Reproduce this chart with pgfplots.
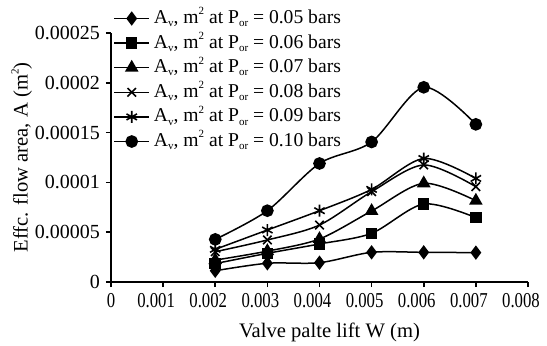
\documentclass[border=0pt]{standalone}
\usepackage{graphicx}
\usepackage{pgfplots}
\pgfplotsset{compat=1.18}
\usepackage{fontspec}
\setmainfont{Liberation Serif}
\newcommand{\sbs}[1]{\raisebox{-0.35ex}{\fontsize{5.5}{5}\selectfont #1}}
\newcommand{\sps}[1]{\raisebox{0.95ex}{\fontsize{5.5}{5}\selectfont #1}}
\newcommand{\xl}[1]{\scalebox{0.79}[1]{\fontsize{10.6}{11}\selectfont #1}}
\begin{document}
\fontsize{10}{11}\selectfont
\begin{tikzpicture}
\useasboundingbox (-55.5pt,-31.5pt) rectangle (218pt,141pt);
\begin{axis}[
  scale only axis, width=208.5pt, height=124.5pt,
  at={(0pt,0pt)}, anchor=origin,
  xmin=0, xmax=0.008, ymin=0, ymax=0.00025,
  axis lines=left, axis line style={line width=0.9pt, -},
  tick align=outside, major tick length=2.5pt,
  tick style={line width=0.8pt, black},
  xtick={0,0.001,0.002,0.003,0.004,0.005,0.006,0.007,0.008},
  xticklabels={\hspace*{7pt}\xl{0},\xl{0.001},\xl{0.002},\xl{0.003},\xl{0.004},\xl{0.005},\xl{0.006},\xl{0.007},\xl{0.008}},
  ytick={0,0.00005,0.0001,0.00015,0.0002,0.00025},
  yticklabels={0,0.00005,0.0001,0.00015,0.0002,0.00025},
  scaled x ticks=false, scaled y ticks=false,
  ticklabel style={font=\fontsize{10}{11}\selectfont},
  xticklabel style={xshift=-3.5pt, yshift=0.5pt},
  yticklabel style={xshift=0.5pt},
  xlabel={Valve palte lift W (m)},
  ylabel={Effc. flow area, A (m\sps{2})},
  label style={font=\fontsize{10.3}{11}\selectfont},
  xlabel style={at={(axis description cs:0.5,0)}, anchor=north, xshift=5pt, yshift=-17pt},
  ylabel style={at={(axis description cs:0,0.5)}, anchor=south, yshift=36pt},
  legend style={draw=none, fill=none, at={(rel axis cs:0.005,1.1)}, anchor=north west,
     font=\fontsize{9.8}{11}\selectfont, row sep=2.3pt, inner sep=0pt,
     nodes={text height=7pt, text depth=2pt, inner ysep=0.5pt, inner xsep=2pt},
     legend cell align=left},
  legend image code/.code={\draw[#1] (0pt,0pt) -- (17.5pt,0pt); \draw[#1, only marks] plot coordinates {(8.75pt,0pt)};},
  every axis plot/.append style={black, line width=0.75pt, smooth, mark options={solid}},
]
\addplot[mark=diamond*, mark size=3pt] coordinates {(0.002,0.0000113) (0.003,0.0000188) (0.004,0.0000194) (0.005,0.0000298) (0.006,0.0000298) (0.007,0.0000295)};
\addlegendentry{A\sbs{v}, m\sps{2} at P\sbs{or} = 0.05 bars}
\addplot[mark=square*, mark size=2.5pt] coordinates {(0.002,0.0000185) (0.003,0.0000288) (0.004,0.0000382) (0.005,0.0000489) (0.006,0.0000783) (0.007,0.0000646)};
\addlegendentry{A\sbs{v}, m\sps{2} at P\sbs{or} = 0.06 bars}
\addplot[mark=triangle*, mark size=3.2pt] coordinates {(0.002,0.000022) (0.003,0.000031) (0.004,0.0000432) (0.005,0.0000713) (0.006,0.0000991) (0.007,0.0000816)};
\addlegendentry{A\sbs{v}, m\sps{2} at P\sbs{or} = 0.07 bars}
\addplot[mark=x, mark size=3pt, mark options={line width=0.8pt}] coordinates {(0.002,0.0000304) (0.003,0.0000422) (0.004,0.0000572) (0.005,0.0000907) (0.006,0.0001175) (0.007,0.0000957)};
\addlegendentry{A\sbs{v}, m\sps{2} at P\sbs{or} = 0.08 bars}
\addplot[mark=asterisk, mark size=3pt, mark options={line width=0.8pt}] coordinates {(0.002,0.0000328) (0.003,0.0000522) (0.004,0.0000716) (0.005,0.000093) (0.006,0.000124) (0.007,0.000104)};
\addlegendentry{A\sbs{v}, m\sps{2} at P\sbs{or} = 0.09 bars}
\addplot[mark=*, mark size=2.8pt] coordinates {(0.002,0.0000428) (0.003,0.0000716) (0.004,0.000119) (0.005,0.0001406) (0.006,0.0001955) (0.007,0.0001583)};
\addlegendentry{A\sbs{v}, m\sps{2} at P\sbs{or} = 0.10 bars}
\end{axis}
\end{tikzpicture}
\end{document}
